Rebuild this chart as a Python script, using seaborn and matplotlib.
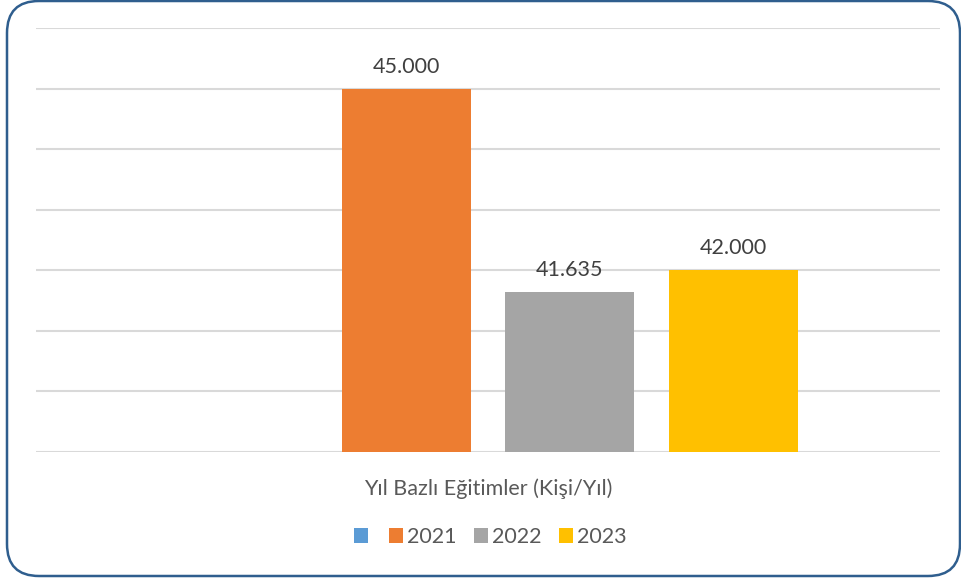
import numpy as np
import pandas as pd
import matplotlib
matplotlib.use("Agg")
import matplotlib.pyplot as plt
from matplotlib.patches import FancyBboxPatch, Patch
import seaborn as sns

category = ["Yıl Bazlı Eğitimler (Kişi/Yıl)"]
series = ["", "2021", "2022", "2023"]
values = [np.nan, 45000, 41635, 42000]
labels = ["", "45.000", "41.635", "42.000"]
colors = ["#5B9BD5", "#ED7D31", "#A5A5A5", "#FFC000"]

df = pd.DataFrame({"cat": category * len(series), "series": series, "value": values})

sns.set_theme(style="white")
plt.rcParams["font.family"] = ["Lato", "DejaVu Sans"]

FS = 15.5

fig = plt.figure(figsize=(9.62, 5.79), dpi=100)
ax = fig.add_axes([36 / 962, 1 - 452 / 579, (940 - 36) / 962, (452 - 28) / 579])

palette = dict(zip(series, colors))
sns.barplot(data=df, x="cat", y="value", hue="series", hue_order=series,
            palette=palette, width=0.7235, gap=0.211, saturation=1,
            legend=False, ax=ax, linewidth=0, err_kws={"linewidth": 0})

ax.set_ylim(39000, 46000)
ax.set_yticks(np.arange(39000, 46001, 1000))
ax.set_yticklabels([])
ax.tick_params(axis="y", length=0)
ax.yaxis.grid(True, color="#D9D9D9", linewidth=1.5)
ax.set_axisbelow(True)
for s in ax.spines.values():
    s.set_visible(False)
ax.set_xlabel("")
ax.set_ylabel("")
ax.tick_params(axis="x", length=0, pad=19, labelsize=FS, labelcolor="#595959")

# data labels, matched to bars by their value
lab_of = {v: l for v, l in zip(values, labels) if v == v}
for p in ax.patches:
    h = p.get_height()
    if h != h or h not in lab_of:
        continue
    ax.annotate(lab_of[h], (p.get_x() + p.get_width() / 2, h), xytext=(0, 12),
                textcoords="offset pixels", ha="center", va="bottom",
                fontsize=FS, color="#404040")

handles = [Patch(facecolor=c, edgecolor="none") for c in colors]
fig.legend(handles, series, loc="center", bbox_to_anchor=(490 / 962, 1 - 537 / 579),
           ncol=4, frameon=False, fontsize=FS, labelcolor="#595959",
           handlelength=0.65, handleheight=0.65, handletextpad=0.15,
           columnspacing=0.85)

border = FancyBboxPatch((7, 3), 953, 575, boxstyle="round,pad=0,rounding_size=32",
                        transform=None, facecolor="none", edgecolor="#2F5E8E",
                        linewidth=1.8, zorder=10)
fig.patches.append(border)

fig.savefig("out.png", dpi=100)
